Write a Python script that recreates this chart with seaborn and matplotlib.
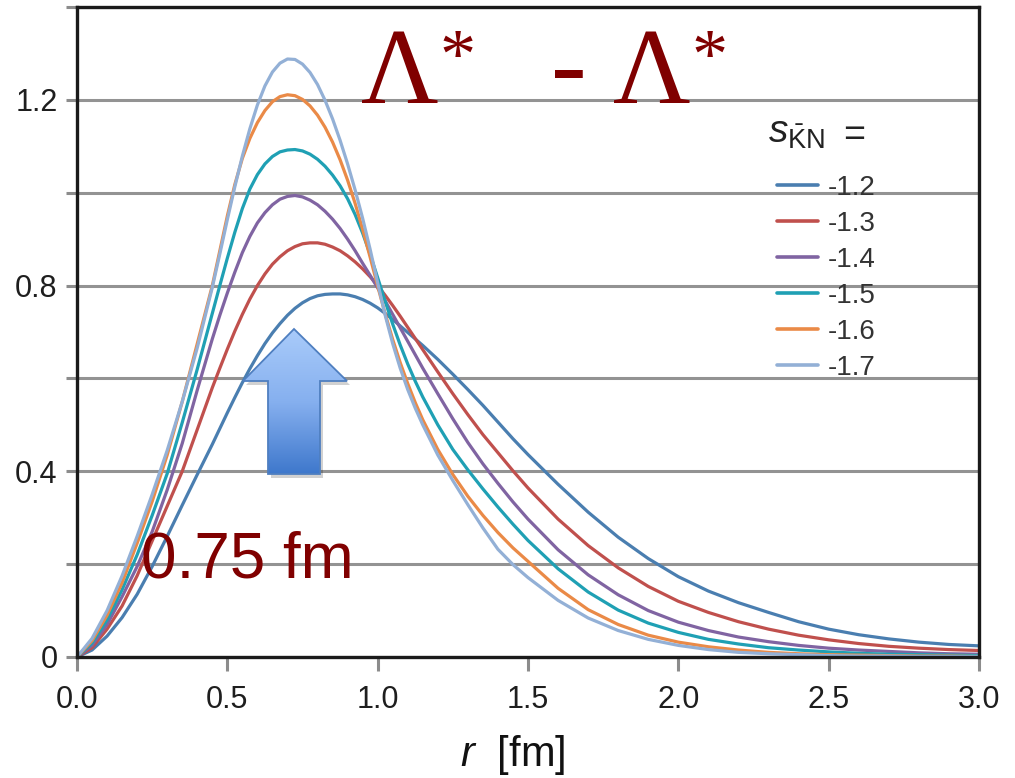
import numpy as np
import pandas as pd
import matplotlib
matplotlib.use("Agg")
import matplotlib.pyplot as plt
import seaborn as sns
from matplotlib.patches import Polygon
from matplotlib.colors import LinearSegmentedColormap

# radial distance r [fm]
r = [0.00, 0.05, 0.10, 0.15, 0.20, 0.25, 0.30, 0.35, 0.40, 0.45,
     0.475, 0.500, 0.525, 0.550, 0.575, 0.600, 0.625, 0.650, 0.675, 0.700,
     0.725, 0.750, 0.775, 0.800, 0.825, 0.850, 0.875, 0.900, 0.925, 0.950,
     0.975, 1.000, 1.025, 1.050, 1.075, 1.100, 1.125, 1.150,
     1.20, 1.25, 1.30, 1.35, 1.40, 1.45, 1.50,
     1.6, 1.7, 1.8, 1.9, 2.0, 2.1, 2.2, 2.3, 2.4, 2.5, 2.6, 2.7, 2.8, 2.9, 3.0]

# density distributions, one per s value
s12 = [0, .015, .045, .085, .135, .195, .26, .327, .393, .458,
       .492, .526, .559, .591, .621, .649, .675, .698, .718, .736,
       .751, .763, .772, .778, .781, .782, .782, .78, .776, .77,
       .762, .752, .74, .727, .713, .699, .685, .671,
       .641, .609, .576, .542, .506, .47, .436,
       .372, .312, .258, .212, .173, .142, .117, .096, .076, .06, .048, .039, .032, .027, .024]
s13 = [0, .02, .06, .11, .175, .25, .325, .40, .49, .58,
       .622, .663, .702, .738, .771, .80, .825, .846, .862, .875,
       .884, .89, .892, .892, .889, .883, .875, .864, .851, .836,
       .819, .80, .779, .757, .734, .71, .686, .662,
       .614, .567, .522, .479, .44, .401, .364,
       .297, .24, .192, .152, .12, .096, .076, .06, .047, .037, .029, .023, .019, .016, .014]
s14 = [0, .025, .07, .13, .195, .27, .36, .46, .575, .685,
       .736, .784, .829, .871, .906, .935, .957, .974, .986, .992,
       .994, .991, .984, .974, .96, .943, .923, .90, .875, .848,
       .822, .795, .767, .738, .709, .68, .651, .622,
       .567, .513, .462, .416, .374, .334, .297,
       .231, .177, .134, .10, .075, .057, .043, .033, .025, .019, .015, .012, .009, .007, .006]
s15 = [0, .03, .08, .145, .22, .305, .395, .505, .62, .74,
       .80, .859, .915, .966, 1.008, 1.039, 1.062, 1.078, 1.088, 1.092,
       1.093, 1.09, 1.083, 1.072, 1.057, 1.038, 1.015, .987, .953, .913,
       .867, .817, .766, .717, .672, .631, .594, .56,
       .50, .447, .403, .362, .323, .286, .251,
       .19, .14, .101, .073, .053, .038, .028, .02, .015, .011, .008, .006, .005, .004, .003]
s16 = [0, .035, .09, .16, .245, .335, .435, .55, .675, .80,
       .875, .95, 1.018, 1.074, 1.117, 1.151, 1.177, 1.196, 1.207, 1.211,
       1.209, 1.201, 1.187, 1.167, 1.141, 1.109, 1.071, 1.027, .977, .921,
       .861, .799, .739, .684, .634, .589, .548, .511,
       .447, .393, .346, .305, .268, .235, .206,
       .148, .102, .07, .047, .032, .022, .015, .01, .007, .005, .004, .003, .002, .002, .001]
s17 = [0, .04, .10, .175, .26, .35, .445, .55, .666, .796,
       .868, .942, 1.013, 1.079, 1.138, 1.189, 1.23, 1.26, 1.279, 1.288,
       1.287, 1.277, 1.259, 1.233, 1.199, 1.159, 1.113, 1.062, 1.006, .945,
       .878, .806, .736, .675, .622, .576, .536, .50,
       .435, .38, .328, .278, .232, .199, .171,
       .122, .084, .057, .038, .025, .016, .010, .007, .005, .003, .002, .002, .001, .001, .001]

labels = ["-1.2", "-1.3", "-1.4", "-1.5", "-1.6", "-1.7"]
series = [s12, s13, s14, s15, s16, s17]
colors = ["#4a7eb0", "#c0504d", "#8064a2", "#1fa0b4", "#ea8a47", "#93b0d6"]

y_ticks = [0.0, 0.2, 0.4, 0.6, 0.8, 1.0, 1.2, 1.4]
y_ticklabels = ["0", "", "0.4", "", "0.8", "", "1.2", ""]
x_ticks = [0.0, 0.5, 1.0, 1.5, 2.0, 2.5, 3.0]
x_ticklabels = ["0.0", "0.5", "1.0", "1.5", "2.0", "2.5", "3.0"]

df = pd.concat(
    [pd.DataFrame({"r": r, "density": s, "s": lab}) for s, lab in zip(series, labels)],
    ignore_index=True,
)

sns.set_style("white")
plt.rcParams["font.family"] = ["Liberation Sans", "DejaVu Sans"]
plt.rcParams["mathtext.fontset"] = "custom"
plt.rcParams["mathtext.rm"] = "Liberation Sans"
plt.rcParams["mathtext.it"] = "Liberation Sans:italic"

W, H = 1015, 778
fig = plt.figure(figsize=(W / 100, H / 100), dpi=100)
ax = fig.add_axes([77 / W, 1 - 657 / H, (979 - 77) / W, (657 - 7) / H])

sns.lineplot(data=df, x="r", y="density", hue="s", hue_order=labels,
             palette=colors, linewidth=2.3, ax=ax, legend=True)
for ln in ax.lines:
    ln.set_solid_joinstyle("round")

ax.set_xlim(0, 3)
ax.set_ylim(0, 1.4)
ax.set_yticks(y_ticks)
ax.set_yticklabels(y_ticklabels)
ax.set_xticks(x_ticks)
ax.set_xticklabels(x_ticklabels)
ax.yaxis.grid(True, color="#939393", linewidth=2.2)
ax.xaxis.grid(False)
ax.set_axisbelow(True)
ax.tick_params(axis="both", which="major", bottom=True, left=True,
               direction="out", width=2.2, color="#8c8c8c",
               labelsize=22, labelcolor="#1e1e1e")
ax.tick_params(axis="y", length=8, pad=6)
ax.tick_params(axis="x", length=10, pad=10)
for sp in ax.spines.values():
    sp.set_color("#1a1a1a")
    sp.set_linewidth(2.4)

ax.set_ylabel("")
ax.set_xlabel(r"$\mathit{r}$  [fm]", fontsize=30, color="#111111")
ax.xaxis.set_label_coords((513 - 77) / 902, (657 - 766) / 650)
ax.xaxis.label.set_verticalalignment("baseline")

handles, labs = ax.get_legend_handles_labels()
leg = ax.legend(handles, labs, frameon=False, loc="upper left",
                bbox_to_anchor=(777 / W, 1 - 175 / H), bbox_transform=fig.transFigure,
                fontsize=20, handlelength=1.47, handletextpad=0.36,
                labelspacing=0.36, borderpad=0, borderaxespad=0)
for t in leg.get_texts():
    t.set_color("#333333")
for h in leg.get_lines():
    h.set_linewidth(2.6)

# overlay in pixel coordinates for annotations
ov = fig.add_axes([0, 0, 1, 1])
ov.set_xlim(0, W)
ov.set_ylim(H, 0)
ov.axis("off")

ov.text(768, 143, r"$s_{\mathrm{\bar{K}N}}$", fontsize=28, color="#222222",
        ha="left", va="baseline")
ov.text(843, 146, "=", fontsize=27, color="#222222", ha="left", va="baseline")

dark_red = "#800000"
serif = "Liberation Serif"
ov.text(361, 103, "Λ", fontsize=77, family=serif, color=dark_red,
        ha="left", va="baseline")
ov.text(439, 78, "*", fontsize=52, family=serif, color=dark_red,
        ha="left", va="baseline")
ov.text(551, 99, "-", fontsize=77, family=serif, color=dark_red,
        ha="left", va="baseline")
ov.text(613, 103, "Λ", fontsize=77, family=serif, color=dark_red,
        ha="left", va="baseline")
ov.text(691, 78, "*", fontsize=52, family=serif, color=dark_red,
        ha="left", va="baseline")

ov.text(141, 578, "0.75 fm", fontsize=46, color=dark_red, ha="left", va="baseline")

# block arrow with vertical gradient
arrow_pts = [(294, 329), (347, 381), (320, 381), (320, 474),
             (268, 474), (268, 381), (243, 381)]
shadow = Polygon([(x + 3, y + 4) for x, y in arrow_pts], closed=True,
                 facecolor="#000000", alpha=0.18, edgecolor="none", zorder=2)
ov.add_patch(shadow)
arrow = Polygon(arrow_pts, closed=True, facecolor="none",
                edgecolor="#4f7fc0", linewidth=1.3, zorder=4)
ov.add_patch(arrow)
cmap = LinearSegmentedColormap.from_list("arrowgrad", ["#a9cbfa", "#86b0ef", "#3f78cc"])
grad = np.linspace(0, 1, 200).reshape(-1, 1)
img = ov.imshow(grad, cmap=cmap, extent=[243, 347, 474, 329], aspect="auto",
                interpolation="bicubic", zorder=3, origin="upper")
clip = Polygon(arrow_pts, closed=True, transform=ov.transData)
img.set_clip_path(clip)
ov.set_xlim(0, W)
ov.set_ylim(H, 0)

fig.savefig("out.png", dpi=100)
